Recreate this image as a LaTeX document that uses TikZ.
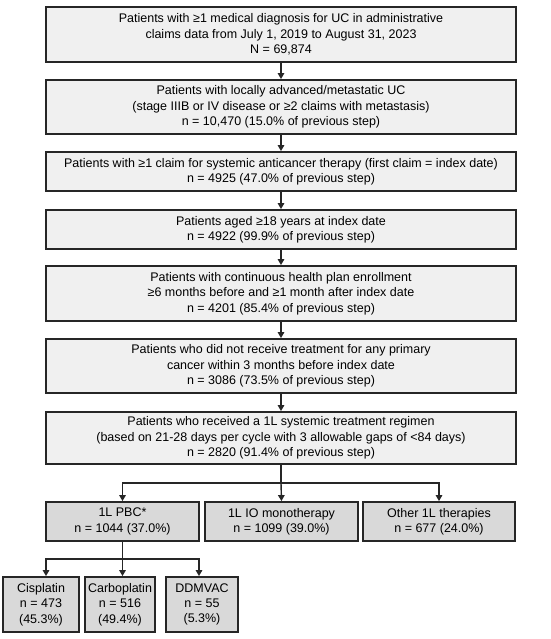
\documentclass[tikz,border=0pt]{standalone}
\usepackage{fontspec}
\setmainfont{Liberation Sans}
\usetikzlibrary{arrows.meta}
\begin{document}
\begin{tikzpicture}[x=1pt,y=-1pt,
  box/.style={draw=black!85,line width=1.8pt,fill=black!6,align=center,inner sep=0pt,
    font=\fontsize{12.5}{15.3}\selectfont},
  mainbox/.style={box,minimum width=470pt},
  subbox/.style={box,fill=black!15},
  arr/.style={line width=1.4pt,draw=black!85,-{Triangle[length=6pt,width=6.5pt]}},
  ln/.style={line width=1.4pt,draw=black!85}]
\useasboundingbox (0,0) rectangle (550,639);
\node[mainbox,minimum height=55pt] (b1) at (281,34.5) {Patients with ≥1 medical diagnosis for UC in administrative\\claims data from July 1, 2019 to August 31, 2023\\N = 69,874};
\node[mainbox,minimum height=54pt] (b2) at (281,107) {Patients with locally advanced/metastatic UC\\(stage IIIB or IV disease or ≥2 claims with metastasis)\\n = 10,470 (15.0\% of previous step)};
\node[mainbox,minimum height=39pt] (b3) at (281,171.5) {Patients with ≥1 claim for systemic anticancer therapy (first claim = index date)\\n = 4925 (47.0\% of previous step)};
\node[mainbox,minimum height=39pt] (b4) at (281,229.5) {Patients aged ≥18 years at index date\\n = 4922 (99.9\% of previous step)};
\node[mainbox,minimum height=55pt] (b5) at (281,293.5) {Patients with continuous health plan enrollment\\≥6 months before and ≥1 month after index date\\n = 4201 (85.4\% of previous step)};
\node[mainbox,minimum height=54pt] (b6) at (281,366) {Patients who did not receive treatment for any primary\\cancer within 3 months before index date\\n = 3086 (73.5\% of previous step)};
\node[mainbox,minimum height=52pt] (b7) at (281,438) {Patients who received a 1L systemic treatment regimen\\(based on 21-28 days per cycle with 3 allowable gaps of <84 days)\\n = 2820 (91.4\% of previous step)};
\node[subbox,minimum width=153pt,minimum height=39pt] (pbc) at (122.5,521.5) {1L PBC*\\n = 1044 (37.0\%)};
\node[subbox,minimum width=153pt,minimum height=39pt] (io) at (281.5,521.5) {1L IO monotherapy\\n = 1099 (39.0\%)};
\node[subbox,minimum width=152pt,minimum height=39pt] (oth) at (439,521.5) {Other 1L therapies\\n = 677 (24.0\%)};
\node[subbox,minimum width=76pt,minimum height=55pt] (cis) at (41,604.5) {Cisplatin\\n = 473\\(45.3\%)};
\node[subbox,minimum width=70pt,minimum height=55pt] (carb) at (120,604.5) {Carboplatin\\n = 516\\(49.4\%)};
\node[subbox,minimum width=72pt,minimum height=55pt] (dd) at (202,604.5) {DDMVAC\\n = 55\\(5.3\%)};
\draw[arr] (b1) -- (b2);
\draw[arr] (b2) -- (b3);
\draw[arr] (b3) -- (b4);
\draw[arr] (b4) -- (b5);
\draw[arr] (b5) -- (b6);
\draw[arr] (b6) -- (b7);
\coordinate (j1) at (281,483);
\draw[ln] (b7.south) -- (j1);
\draw[arr] (j1) -| (pbc.north);
\draw[arr] (j1) -| (oth.north);
\draw[arr] (j1) -- (io.north);
\coordinate (j2) at (122.5,559);
\draw[ln] (pbc.south) -- (j2);
\draw[arr] (j2) -| ([xshift=5pt]cis.north);
\draw[arr] (j2) -| (carb.north -| j2);
\draw[arr] (j2) -| (dd.north -| 199,0);
\end{tikzpicture}
\end{document}
